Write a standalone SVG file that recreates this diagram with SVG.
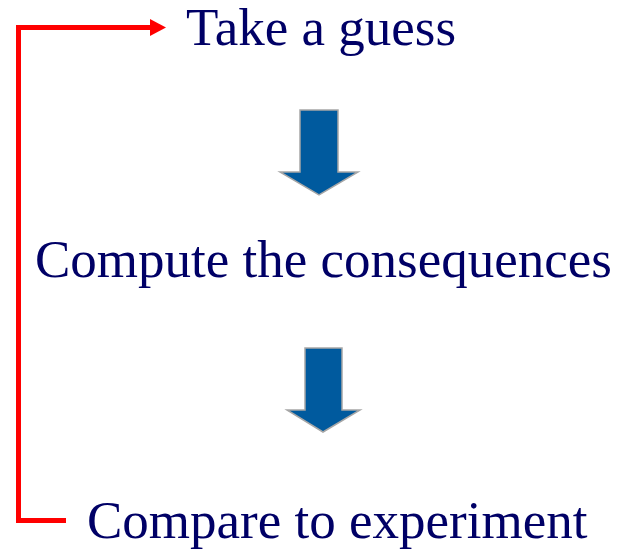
<svg xmlns="http://www.w3.org/2000/svg" width="624" height="553" viewBox="0 0 624 553">
<style>
.t{font-family:"Liberation Serif","Times New Roman",serif;font-size:53px;fill:#000066}
.blk{fill:#005a9e;stroke:#a6a6a6;stroke-width:1.5}
</style>
<rect width="624" height="553" fill="#fff"/>
<g id="connectors">
<path d="M151,27.5 L18.5,27.5 L18.5,520.5 L66,520.5" fill="none" stroke="#ff0000" stroke-width="5"/>
<polygon points="150,19 166,27.5 150,36" fill="#ff0000"/>
<polygon class="blk" points="300,110 338,110 338,172 358,172 319,195 280,172 300,172"/>
<polygon class="blk" points="305,348 342,348 342,410 360,410 323,432 287,410 305,410"/>
</g>
<g id="node-guess"><text class="t" x="186" y="45">Take a guess</text></g>
<g id="node-compute"><text class="t" x="35" y="277">Compute the consequences</text></g>
<g id="node-compare"><text class="t" x="87" y="538">Compare to experiment</text></g>
</svg>
